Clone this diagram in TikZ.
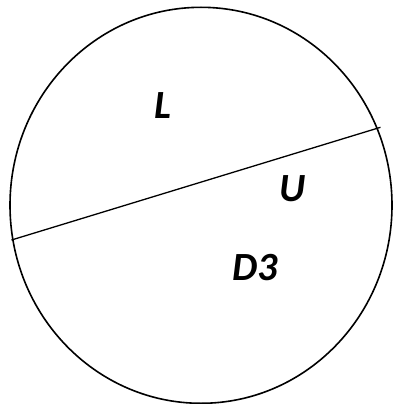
\documentclass[tikz,border=0pt]{standalone}
\usepackage{fontspec}
\setmainfont{Carlito}
\tikzset{lbl/.style={font=\fontsize{40}{46}\selectfont\bfseries\itshape, inner sep=0pt}}
\begin{document}
\begin{tikzpicture}[x=1pt,y=-1pt]
\useasboundingbox (0,0) rectangle (393,404);
\draw[line width=1.6pt] (201,205.3) ellipse [x radius=191, y radius=198];
\coordinate (a) at (11.5,240);
\coordinate (b) at (380.5,127.3);
\draw[line width=1.3pt] (a) -- (b);
\node[lbl] (L) at (163,106) {L};
\node[lbl] (U) at (293,188.5) {U};
\node[lbl] (D) at (255,268) {D3};
\end{tikzpicture}
\end{document}
